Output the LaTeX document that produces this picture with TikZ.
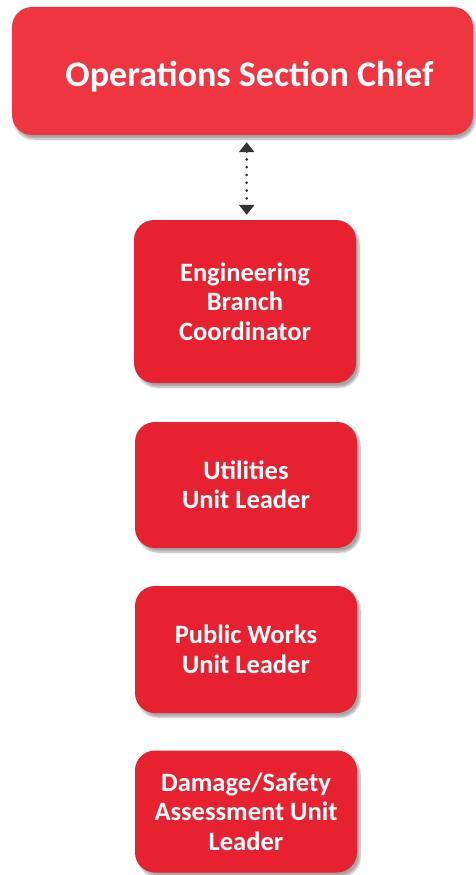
\documentclass[tikz,border=0pt]{standalone}
\usepackage{fontspec}
\setmainfont{Carlito}
\usetikzlibrary{arrows.meta,shadows.blur}

\definecolor{chiefred}{HTML}{EE3540}
\definecolor{unitred}{HTML}{E82130}
\definecolor{tipgray}{HTML}{333333}

\tikzset{
    chief/.style={draw=none, fill=chiefred, rounded corners=20pt,
        minimum width=461pt, minimum height=128pt,
        blur shadow={shadow xshift=2pt, shadow yshift=-4pt, shadow blur steps=8, shadow opacity=35}},
    chieftext/.style={text=white, font=\fontsize{36}{40}\selectfont\bfseries},
    unit/.style={draw=none, fill=unitred, rounded corners=20pt,
        text=white, font=\fontsize{26.5}{29.5}\selectfont\bfseries,
        align=center, minimum width=222pt,
        blur shadow={shadow xshift=3pt, shadow yshift=-4pt, shadow blur steps=8, shadow opacity=35}},
    link/.style={{Triangle[width=15pt,length=10pt]}-{Triangle[width=15pt,length=10pt]},
        tipgray, line width=3pt, dash pattern=on 0pt off 7.8pt, line cap=round}
}

\begin{document}
\begin{tikzpicture}[x=1pt,y=1pt]
    \useasboundingbox (0,0) rectangle (475,-875);

    \node[chief] (chief) at (242.5,-71) {};
    \node[chieftext] (chieftitle) at ([xshift=7pt,yshift=-6pt]chief.center)
        {Operations Section Chief};

    \node[unit, minimum height=163pt] (eng) at (245,-301.5)
        {Engineering\\Branch\\Coordinator};
    \node[unit, minimum height=126pt] (util) at (246,-485)
        {Utilities\\Unit Leader};
    \node[unit, minimum height=127pt] (works) at (246,-649.5)
        {Public Works\\Unit Leader};
    \node[unit, minimum height=122pt] (damage) at (246,-811.5)
        {Damage/Safety\\Assessment Unit\\Leader};

    % dotted two-way link between chief and branch
    \coordinate (linktop) at ([xshift=1.7pt]eng.north |- chief.south);
    \coordinate (linkbot) at ([xshift=1.7pt]eng.north);
    \draw[link, shorten <=7pt, shorten >=5pt] (linktop) -- (linkbot);
\end{tikzpicture}
\end{document}
